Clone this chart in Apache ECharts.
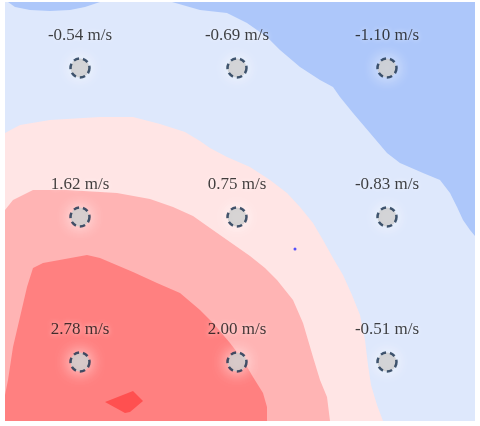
<!DOCTYPE html>
<html>
<head>
<meta charset="utf-8">
<script src="https://cdn.jsdelivr.net/npm/echarts@6/dist/echarts.min.js"></script>
<style>html,body{margin:0;padding:0;background:#fff}#c{width:480px;height:426px}</style>
</head>
<body>
<div id="c"></div>
<script>
// Field extent in cm (x to the right, y downward)
const fieldWidth = 470;
const fieldHeight = 419;

// Sensor positions (cm) and measured velocities (m/s)
const sensorX = [75, 232, 382];
const sensorY = [66, 215, 360];
const velocity = [
  [-0.54, -0.69, -1.10],
  [1.62, 0.75, -0.83],
  [2.78, 2.00, -0.51]
];
const unit = 'm/s';

// Filled contour bands (vertices in cm)
const bandLightBlue = [[0, 0], [470, 0], [470, 419], [0, 419]];
const bandDarkBlueTopLeft = [[3, 0], [10, 5], [25, 8], [45, 9], [65, 8], [80, 5], [95, 0]];
const bandDarkBlueRight = [[167, 0], [195, 8], [222, 11], [242, 21], [262, 35], [275, 48], [295, 65], [315, 78], [328, 85], [335, 95], [348, 111], [365, 131], [382, 151], [395, 161], [418, 171], [435, 178], [445, 191], [452, 205], [458, 218], [465, 228], [470, 234], [470, 0]];
const bandPalePink = [[0, 131], [15, 123], [45, 118], [95, 115], [128, 115], [155, 122], [180, 130], [195, 139], [205, 146], [222, 155], [245, 165], [265, 178], [282, 191], [295, 205], [308, 221], [318, 238], [328, 256], [338, 273], [347, 293], [355, 313], [360, 338], [363, 363], [366, 383], [372, 403], [378, 419], [0, 419]];
const bandMidPink = [[0, 208], [8, 198], [28, 188], [62, 188], [112, 191], [145, 197], [168, 205], [188, 214], [205, 226], [225, 240], [245, 254], [260, 266], [272, 278], [288, 298], [298, 321], [308, 355], [315, 378], [322, 395], [325, 419], [0, 419]];
const bandRed = [[0, 393], [3, 378], [8, 345], [15, 315], [22, 285], [28, 266], [38, 261], [82, 253], [95, 256], [128, 270], [152, 281], [175, 291], [195, 308], [208, 321], [225, 341], [238, 358], [248, 375], [258, 391], [262, 405], [262, 419], [0, 419]];
const bandDarkRed = [[100, 400], [128, 389], [138, 399], [125, 410], [120, 411]];
const strayDot = [[290, 247]];

const bands = [
  { pts: bandLightBlue, color: '#dee8fc' },
  { pts: bandDarkBlueTopLeft, color: '#adc7fa' },
  { pts: bandDarkBlueRight, color: '#adc7fa' },
  { pts: bandPalePink, color: '#ffe5e5' },
  { pts: bandMidPink, color: '#ffb4b4' },
  { pts: bandRed, color: '#ff8080' },
  { pts: bandDarkRed, color: '#ff5050' }
];

const bandSeries = bands.map(b => ({
  type: 'custom',
  silent: true,
  clip: true,
  data: b.pts,
  renderItem: function (params, api) {
    if (params.dataIndex !== 0) return null;
    const points = b.pts.map(p => api.coord(p));
    return { type: 'polygon', shape: { points: points }, style: { fill: b.color } };
  }
}));

const sensorData = [];
for (let r = 0; r < sensorY.length; r++) {
  for (let c = 0; c < sensorX.length; c++) {
    sensorData.push([sensorX[c], sensorY[r], velocity[r][c]]);
  }
}

const chart = echarts.init(document.getElementById('c'));
chart.setOption({
  animation: false,
  backgroundColor: '#fff',
  grid: { left: 5, top: 2, width: 470, height: 419 },
  xAxis: { type: 'value', min: 0, max: fieldWidth, show: false },
  yAxis: { type: 'value', min: 0, max: fieldHeight, inverse: true, show: false },
  series: bandSeries.concat([
    {
      type: 'scatter',
      silent: true,
      data: strayDot,
      symbolSize: 3,
      itemStyle: { color: '#2a2aff' }
    },
    {
      type: 'scatter',
      data: sensorData,
      symbol: 'circle',
      symbolSize: 19,
      itemStyle: {
        color: '#c8c8c8',
        borderColor: '#17304d',
        borderWidth: 2.5,
        borderType: [5.5, 4],
        shadowBlur: 16,
        shadowColor: '#ffffff'
      },
      label: {
        show: true,
        position: 'top',
        distance: 13,
        formatter: p => p.value[2].toFixed(2) + ' ' + unit,
        fontFamily: '"Liberation Serif", "DejaVu Serif", serif',
        fontSize: 17,
        color: '#111',
        textShadowColor: 'rgba(255,255,255,0.9)',
        textShadowBlur: 5
      }
    }
  ])
});
</script>
</body>
</html>
